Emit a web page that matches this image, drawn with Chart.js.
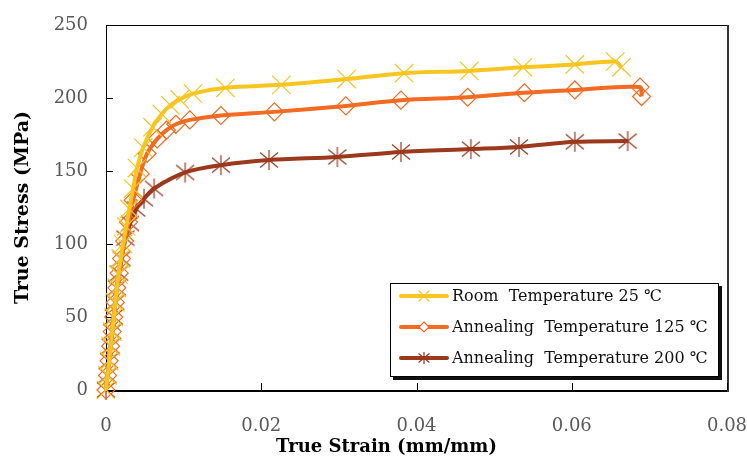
<!DOCTYPE html>
<html>
<head>
<meta charset="utf-8">
<script src="https://cdn.jsdelivr.net/npm/chart.js@4.4.0/dist/chart.umd.min.js"></script>
<style>
    html, body { margin: 0; padding: 0; background: #fff; }
</style>
</head>
<body>
<canvas id="stressChart" width="747" height="457"></canvas>
<script>
// Series names
const seriesNames = [
    "Room  Temperature 25 \u2103",
    "Annealing  Temperature 125 \u2103",
    "Annealing  Temperature 200 \u2103"
];

// Room temperature (strain, stress)
const roomStrain = [0, 0.0002, 0.0004, 0.0006, 0.0008, 0.001, 0.0012, 0.0014, 0.0016, 0.0019, 0.0022, 0.0026, 0.003, 0.0035, 0.004, 0.0048, 0.006, 0.0072, 0.0083, 0.0095, 0.0112, 0.0154, 0.0226, 0.031, 0.0384, 0.0468, 0.0537, 0.0604, 0.0656, 0.0664];
const roomStress = [0, 10, 20, 30, 40, 50, 60, 70, 79, 90, 100, 112, 124, 138, 152, 166, 180, 189, 195, 199, 203, 207, 209, 213, 217, 218.5, 221, 223, 225, 221];

// Annealing 125 C
const anneal125Strain = [0, 0.0002, 0.0004, 0.0006, 0.0008, 0.001, 0.0012, 0.0014, 0.0017, 0.002, 0.0024, 0.0029, 0.0035, 0.0044, 0.0053, 0.0066, 0.0078, 0.009, 0.0108, 0.0148, 0.0217, 0.0309, 0.038, 0.0466, 0.0539, 0.0604, 0.0688, 0.069];
const anneal125Stress = [0, 10, 20, 30, 40, 50, 60, 70, 80, 90, 102, 115, 130, 148, 162, 172, 178, 182, 185, 188, 190.5, 194.6, 198.5, 200.5, 203.6, 205.5, 207.5, 201];

// Annealing 200 C
const anneal200Strain = [0, 0.0002, 0.0004, 0.0006, 0.0008, 0.001, 0.0012, 0.0014, 0.0017, 0.002, 0.0025, 0.0031, 0.0039, 0.0049, 0.0062, 0.0102, 0.0148, 0.021, 0.0298, 0.038, 0.047, 0.0532, 0.0604, 0.0672];
const anneal200Stress = [0, 10, 20, 30, 40, 50, 60, 70, 80, 90, 104, 114, 124, 131, 138, 149, 154, 157.5, 159.6, 163, 165, 166.5, 170, 170.5];

// Axis ticks and titles
const xTicks = [0, 0.02, 0.04, 0.06, 0.08];
const yTicks = [0, 50, 100, 150, 200, 250];
const xTitle = "True Strain (mm/mm)";
const yTitle = "True Stress (MPa)";

const colors = ["#F7C520", "#F36A22", "#9B391D"];
const serif = '"DejaVu Serif", "Noto Sans CJK KR", serif';

function toPoints(xs, ys) {
    return xs.map((x, i) => ({ x: x, y: ys[i] }));
}

// six-armed asterisk marker like the spreadsheet "star"
function makeStar(color, r) {
    const c = document.createElement("canvas");
    c.width = c.height = r * 2 + 2;
    const g = c.getContext("2d");
    const m = r + 1;
    g.strokeStyle = color;
    g.lineWidth = 1.2;
    g.beginPath();
    g.moveTo(m, m - r); g.lineTo(m, m + r);
    g.moveTo(m - r * 0.9, m - r * 0.75); g.lineTo(m + r * 0.9, m + r * 0.75);
    g.moveTo(m + r * 0.9, m - r * 0.75); g.lineTo(m - r * 0.9, m + r * 0.75);
    g.stroke();
    return c;
}
const starMarker = makeStar(colors[2], 10);

// axes frame with inward ticks, plus x axis title
const framePlugin = {
    id: "frame",
    beforeDatasetsDraw(chart) {
        const { ctx, chartArea: a, scales } = chart;
        ctx.save();
        ctx.strokeStyle = "#000";
        ctx.lineWidth = 1;
        ctx.strokeRect(a.left + 0.5, a.top + 0.5, a.right - a.left, a.bottom - a.top);
        ctx.lineWidth = 2;
        ctx.beginPath();
        ctx.moveTo(a.left, a.bottom + 1); ctx.lineTo(a.right + 1, a.bottom + 1);
        ctx.stroke();
        ctx.strokeStyle = "#333";
        ctx.beginPath();
        ctx.moveTo(a.right + 1, a.top); ctx.lineTo(a.right + 1, a.bottom + 2);
        ctx.stroke();
        ctx.lineWidth = 1;
        ctx.strokeStyle = "#000";
        ctx.beginPath();
        yTicks.forEach(v => {
            const y = Math.round(scales.y.getPixelForValue(v)) + 0.5;
            ctx.moveTo(a.left, y); ctx.lineTo(a.left + 7, y);
        });
        xTicks.forEach(v => {
            const x = Math.round(scales.x.getPixelForValue(v)) + 0.5;
            ctx.moveTo(x, a.bottom); ctx.lineTo(x, a.bottom - 7);
        });
        ctx.stroke();

        // x title sits a bit left of the plot centre in the original
        ctx.fillStyle = "#000";
        ctx.font = "bold 18px " + serif;
        ctx.textAlign = "center";
        ctx.textBaseline = "middle";
        ctx.fillText(xTitle, (a.left + a.right) / 2 - 30, a.bottom + 57);
        ctx.restore();
    }
};

// boxed legend inside the plot area, with drop shadow
const legendPlugin = {
    id: "boxLegend",
    afterDraw(chart) {
        const { ctx, chartArea: a } = chart;
        const w = 329, h = 94;
        const left = a.right - 8 - w, top = a.bottom - 13 - h;
        ctx.save();
        ctx.fillStyle = "#111";
        ctx.fillRect(left + 3, top + 3, w, h);
        ctx.fillStyle = "#fff";
        ctx.fillRect(left, top, w, h);
        ctx.strokeStyle = "#000";
        ctx.lineWidth = 1;
        ctx.strokeRect(left + 0.5, top + 0.5, w - 1, h - 1);

        const ds = chart.data.datasets;
        ds.forEach((d, i) => {
            const y = top + 13 + i * 31;
            const x0 = left + 11, x1 = left + 57, xm = (x0 + x1) / 2;
            ctx.strokeStyle = d.borderColor;
            ctx.lineWidth = 4;
            ctx.lineCap = "round";
            ctx.beginPath();
            ctx.moveTo(x0, y); ctx.lineTo(x1, y);
            ctx.stroke();
            ctx.lineWidth = 1.2;
            ctx.strokeStyle = d.pointBorderColor;
            ctx.beginPath();
            if (i === 0) {
                ctx.moveTo(xm - 5, y - 5); ctx.lineTo(xm + 5, y + 5);
                ctx.moveTo(xm + 5, y - 5); ctx.lineTo(xm - 5, y + 5);
                ctx.stroke();
            } else if (i === 1) {
                ctx.moveTo(xm, y - 5); ctx.lineTo(xm + 5, y); ctx.lineTo(xm, y + 5); ctx.lineTo(xm - 5, y);
                ctx.closePath();
                ctx.fillStyle = "#fff";
                ctx.fill();
                ctx.stroke();
            } else {
                ctx.drawImage(makeStar(d.pointBorderColor, 6), xm - 7, y - 7);
            }
            ctx.fillStyle = "#111";
            ctx.font = "16px " + serif;
            ctx.textBaseline = "middle";
            ctx.textAlign = "left";
            ctx.fillText(d.label, left + 62, y + 1);
        });
        ctx.restore();
    }
};

const ctx = document.getElementById("stressChart").getContext("2d");

new Chart(ctx, {
    type: "line",
    data: {
        datasets: [
            {
                label: seriesNames[0],
                data: toPoints(roomStrain, roomStress),
                borderColor: colors[0],
                pointBorderColor: colors[0],
                pointStyle: "crossRot",
                pointRadius: 13,
                pointBorderWidth: 1.2
            },
            {
                label: seriesNames[1],
                data: toPoints(anneal125Strain, anneal125Stress),
                borderColor: colors[1],
                pointBorderColor: colors[1],
                pointBackgroundColor: "rgba(255,255,255,0)",
                pointStyle: "rectRot",
                pointRadius: 9,
                pointBorderWidth: 1.2
            },
            {
                label: seriesNames[2],
                data: toPoints(anneal200Strain, anneal200Stress),
                borderColor: colors[2],
                pointBorderColor: colors[2],
                pointStyle: starMarker,
                pointRadius: 10
            }
        ]
    },
    options: {
        responsive: false,
        animation: false,
        clip: false,
        layout: { padding: { top: 25, right: 0, left: 0, bottom: 0 } },
        elements: {
            line: { borderWidth: 4, tension: 0.3, fill: false },
            point: { hoverRadius: 10 }
        },
        plugins: {
            legend: { display: false },
            tooltip: { enabled: false }
        },
        scales: {
            x: {
                type: "linear",
                min: 0,
                max: 0.08,
                afterBuildTicks: scale => { scale.ticks = xTicks.map(v => ({ value: v })); },
                afterFit: scale => {
                    scale.height = 67;
                    scale.paddingLeft = 0;
                    scale.paddingRight = 20;
                },
                grid: { display: false, drawTicks: false },
                border: { display: false },
                ticks: {
                    padding: 26,
                    color: "#595959",
                    font: { family: serif, size: 18 },
                    maxRotation: 0,
                    callback: v => v === 0 ? "0" : v.toFixed(2)
                }
            },
            y: {
                min: 0,
                max: 250,
                afterBuildTicks: scale => { scale.ticks = yTicks.map(v => ({ value: v })); },
                afterFit: scale => {
                    scale.width = 106;
                    scale.paddingTop = 0;
                    scale.paddingBottom = 0;
                },
                grid: { display: false, drawTicks: false },
                border: { display: false },
                ticks: {
                    padding: 18,
                    color: "#595959",
                    font: { family: serif, size: 18 }
                },
                title: {
                    display: true,
                    text: yTitle,
                    color: "#000",
                    font: { family: serif, size: 19, weight: "bold" },
                    padding: { top: 12, bottom: 0 }
                }
            }
        }
    },
    plugins: [framePlugin, legendPlugin]
});
</script>
</body>
</html>
